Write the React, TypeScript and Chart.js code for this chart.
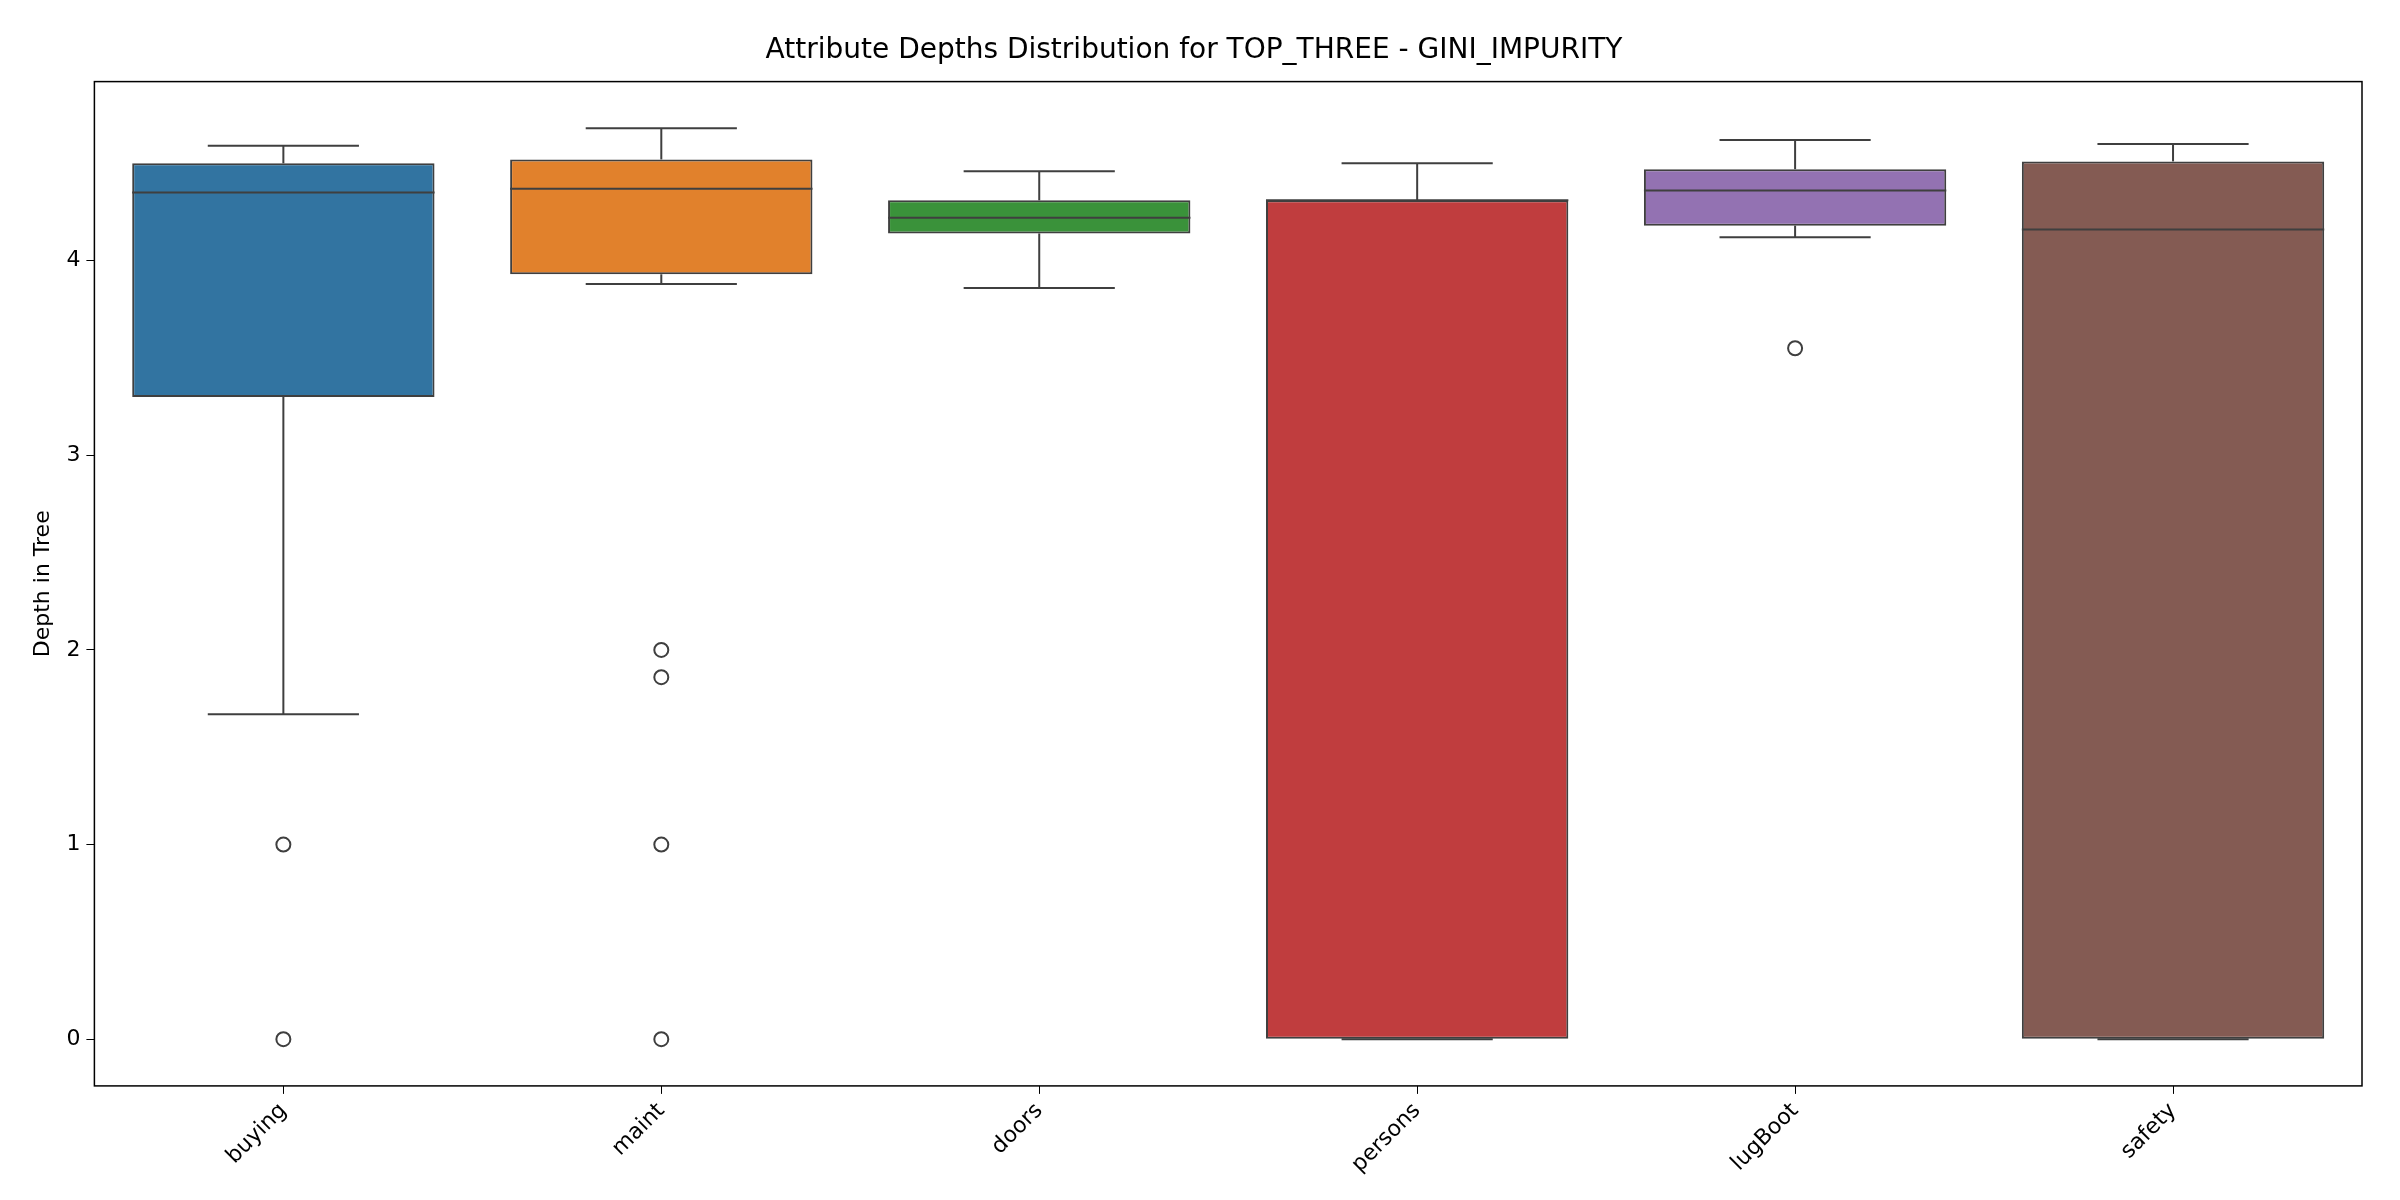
import { useEffect, useRef } from 'react'
import Chart from 'chart.js/auto'

const categories = ['buying', 'maint', 'doors', 'persons', 'lugBoot', 'safety']
const q1 = [3.3, 3.93, 4.14, 0, 4.18, 0]
const q3 = [4.5, 4.52, 4.31, 4.31, 4.47, 4.51]
const medians = [4.35, 4.37, 4.22, 4.31, 4.36, 4.16]
const whiskerLow = [1.67, 3.88, 3.86, 0, 4.12, 0]
const whiskerHigh = [4.59, 4.68, 4.46, 4.5, 4.62, 4.6]
const outliers = [
  { x: 'buying', y: 1 },
  { x: 'buying', y: 0 },
  { x: 'maint', y: 2 },
  { x: 'maint', y: 1.86 },
  { x: 'maint', y: 1 },
  { x: 'maint', y: 0 },
  { x: 'lugBoot', y: 3.55 },
]
const colors = ['#3274a1', '#e1812c', '#3a923a', '#c03d3e', '#9372b2', '#845b53']
const yTicks = [0, 1, 2, 3, 4]

const EDGE = '#3f3f3f'

const boxPlugin = {
  id: 'boxParts',
  afterDatasetsDraw(chart: any) {
    const { ctx, scales, chartArea } = chart
    const x = scales.x
    const y = scales.y
    const bw = (x.getPixelForValue(1) - x.getPixelForValue(0)) * 0.8
    ctx.save()
    ctx.strokeStyle = EDGE
    ctx.lineWidth = 2
    categories.forEach((_, i) => {
      const cx = x.getPixelForValue(i)
      const half = bw / 4
      const line = (x1: number, y1: number, x2: number, y2: number) => {
        ctx.beginPath()
        ctx.moveTo(x1, y1)
        ctx.lineTo(x2, y2)
        ctx.stroke()
      }
      line(cx - bw / 2, y.getPixelForValue(medians[i]), cx + bw / 2, y.getPixelForValue(medians[i]))
      line(cx, y.getPixelForValue(q3[i]), cx, y.getPixelForValue(whiskerHigh[i]))
      line(cx, y.getPixelForValue(q1[i]), cx, y.getPixelForValue(whiskerLow[i]))
      line(cx - half, y.getPixelForValue(whiskerHigh[i]), cx + half, y.getPixelForValue(whiskerHigh[i]))
      line(cx - half, y.getPixelForValue(whiskerLow[i]), cx + half, y.getPixelForValue(whiskerLow[i]))
    })
    ctx.strokeStyle = '#000'
    ctx.lineWidth = 1.5
    ctx.strokeRect(chartArea.left, chartArea.top, chartArea.right - chartArea.left, chartArea.bottom - chartArea.top)
    ctx.restore()
  },
}

export default function App() {
  const canvasRef = useRef<HTMLCanvasElement>(null)

  useEffect(() => {
    if (!canvasRef.current) return
    const chart = new Chart(canvasRef.current, {
      type: 'bar',
      data: {
        labels: categories,
        datasets: [
          {
            type: 'bar',
            data: categories.map((_, i) => [q1[i], q3[i]]),
            backgroundColor: colors,
            borderColor: EDGE,
            borderWidth: 2,
            borderSkipped: false,
            barPercentage: 0.8,
            categoryPercentage: 1,
          } as any,
          {
            type: 'line',
            data: outliers as any,
            showLine: false,
            pointStyle: 'circle',
            pointRadius: 7,
            pointBackgroundColor: 'rgba(0,0,0,0)',
            pointBorderColor: EDGE,
            pointBorderWidth: 2,
          } as any,
        ],
      },
      options: {
        animation: false,
        responsive: true,
        maintainAspectRatio: false,
        layout: { padding: { left: 18, right: 30, top: 0, bottom: 10 } },
        plugins: {
          legend: { display: false },
          tooltip: { enabled: false },
          title: {
            display: true,
            text: 'Attribute Depths Distribution for TOP_THREE - GINI_IMPURITY',
            color: '#000',
            font: { family: 'DejaVu Sans', size: 28, weight: 'normal' },
            padding: { top: 26, bottom: 14 },
          },
        },
        scales: {
          x: {
            offset: true,
            grid: { offset: false, drawOnChartArea: false, drawTicks: true, tickLength: 8, color: '#000' },
            border: { display: false },
            ticks: {
              color: '#000',
              font: { family: 'DejaVu Sans', size: 22 },
              minRotation: 45,
              maxRotation: 45,
              padding: 4,
            },
          },
          y: {
            min: -0.24,
            max: 4.92,
            afterBuildTicks: (axis: any) => {
              axis.ticks = yTicks.map((v) => ({ value: v }))
            },
            grid: { drawOnChartArea: false, drawTicks: true, tickLength: 8, color: '#000' },
            border: { display: false },
            ticks: { color: '#000', font: { family: 'DejaVu Sans', size: 22 }, padding: 6 },
            title: {
              display: true,
              text: 'Depth in Tree',
              color: '#000',
              font: { family: 'DejaVu Sans', size: 22 },
            },
          },
        },
      },
      plugins: [boxPlugin],
    })
    return () => chart.destroy()
  }, [])

  return (
    <div style={{ width: 2384, height: 1184 }}>
      <canvas ref={canvasRef} />
    </div>
  )
}
